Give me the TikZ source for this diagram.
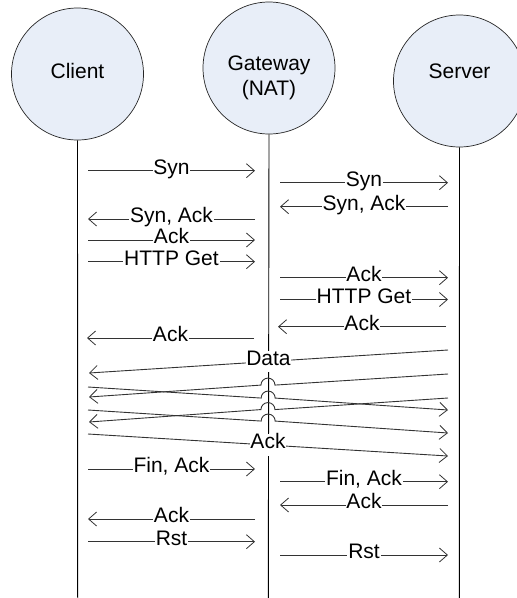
\documentclass[tikz,border=0pt]{standalone}
\usepackage{fontspec}
\setmainfont{Liberation Sans}
\usetikzlibrary{arrows.meta,calc}

\definecolor{actorfill}{HTML}{E8EEF8}

% one message: name, start x, start y, end x, end y, label
\newcommand\sendmsg[6]{%
  \coordinate (#1-s) at (#2,#3);
  \coordinate (#1-e) at (#4,#5);
  \draw[msgline] (#1-s) -- node[msglbl]{#6} (#1-e);}

% one message that hops over the gateway lifeline:
% name, x1, y1, x2, y2, fraction of the way at which the hop begins
\newcommand\hopmsg[6]{%
  \coordinate (#1-s) at (#2,#3);
  \coordinate (#1-e) at (#4,#5);
  \ifdim #2pt<#4pt
    \draw[msgline] (#1-s) -- ($(#1-s)!#6!(#1-e)$)
      arc[start angle=180,end angle=0,radius=7pt] -- (#1-e);
  \else
    \draw[msgline] (#1-s) -- ($(#1-s)!#6!(#1-e)$)
      arc[start angle=0,end angle=180,radius=7pt] -- (#1-e);
  \fi}

\begin{document}
\begin{tikzpicture}[x=1pt,y=-1pt,
  font=\fontsize{21}{25}\selectfont,
  actor/.style={circle,draw=black!85,line width=0.7pt,fill=actorfill,
    minimum size=132pt,inner sep=0pt},
  lifeline/.style={draw=black,line width=0.9pt},
  msgline/.style={draw=black!80,line width=0.9pt,
    -{Straight Barb[length=8pt,width=14pt,line width=0.8pt]}},
  msglbl/.style={fill=white,inner xsep=0.8pt,inner ysep=1pt,
    text height=0.72em,text depth=0pt},
  widelbl/.style={msglbl,inner ysep=7pt}]

\useasboundingbox (0,0) rectangle (517,598);

% actors
\node[actor] (client) at (77.5,74) {};
\node[actor] (gateway) at (269,68) {};
\node[actor] (server) at (459.5,81) {};
\node[text height=0.72em,text depth=0pt] (clientname) at (77.5,75) {Client};
\node[align=center] (gatewayname) at (269,78) {Gateway\\(NAT)};
\node[text height=0.72em,text depth=0pt] (servername) at (459.5,75) {Server};

% lifelines
\coordinate (client-end) at (77.7,598);
\coordinate (gateway-end) at (268.3,598);
\coordinate (server-end) at (459.3,598);
\draw[lifeline] (client.south) -- (client-end);
\draw[lifeline] (gateway.south) -- (gateway-end);
\draw[lifeline] (server.south) -- (server-end);

% connection set-up
\sendmsg{m1}{88}{170.7}{255}{170.7}{Syn}
\sendmsg{m2}{280}{182.7}{448}{182.7}{Syn}
\sendmsg{m3}{448}{206.7}{280}{206.7}{Syn, Ack}
\sendmsg{m4}{255}{219}{88}{219}{Syn, Ack}
\sendmsg{m5}{88}{240}{255}{240}{Ack}
\sendmsg{m6}{88}{261.7}{255}{261.7}{HTTP Get}
\sendmsg{m7}{280}{277.7}{448}{277.7}{Ack}
\sendmsg{m8}{280}{299.5}{448}{299.5}{HTTP Get}
\sendmsg{m9}{446}{326.7}{278}{326.7}{Ack}
\sendmsg{m10}{254}{338}{87}{338}{Ack}

% data transfer straight through the gateway
\coordinate (d1-s) at (448,350);
\coordinate (d1-e) at (89,373);
\draw[msgline] (d1-s) -- node[widelbl]{Data} (d1-e);
\hopmsg{d2}{448}{374}{89}{397}{0.482}
\hopmsg{d3}{448}{398}{89}{422}{0.482}
\hopmsg{a1}{88}{387}{448}{410}{0.481}
\hopmsg{a2}{88}{410}{448}{433}{0.481}
\coordinate (a3-s) at (88,434);
\coordinate (a3-e) at (448,456);
\draw[msgline] (a3-s) -- node[widelbl]{Ack} (a3-e);

% tear-down
\sendmsg{f1}{88}{469}{255}{469}{Fin, Ack}
\sendmsg{f2}{280}{481.7}{448}{481.7}{Fin, Ack}
\sendmsg{f3}{448}{505}{280}{505}{Ack}
\sendmsg{f4}{255}{519}{88}{519}{Ack}
\sendmsg{f5}{88}{541.7}{255}{541.7}{Rst}
\sendmsg{f6}{280}{555}{448}{555}{Rst}
\end{tikzpicture}
\end{document}
